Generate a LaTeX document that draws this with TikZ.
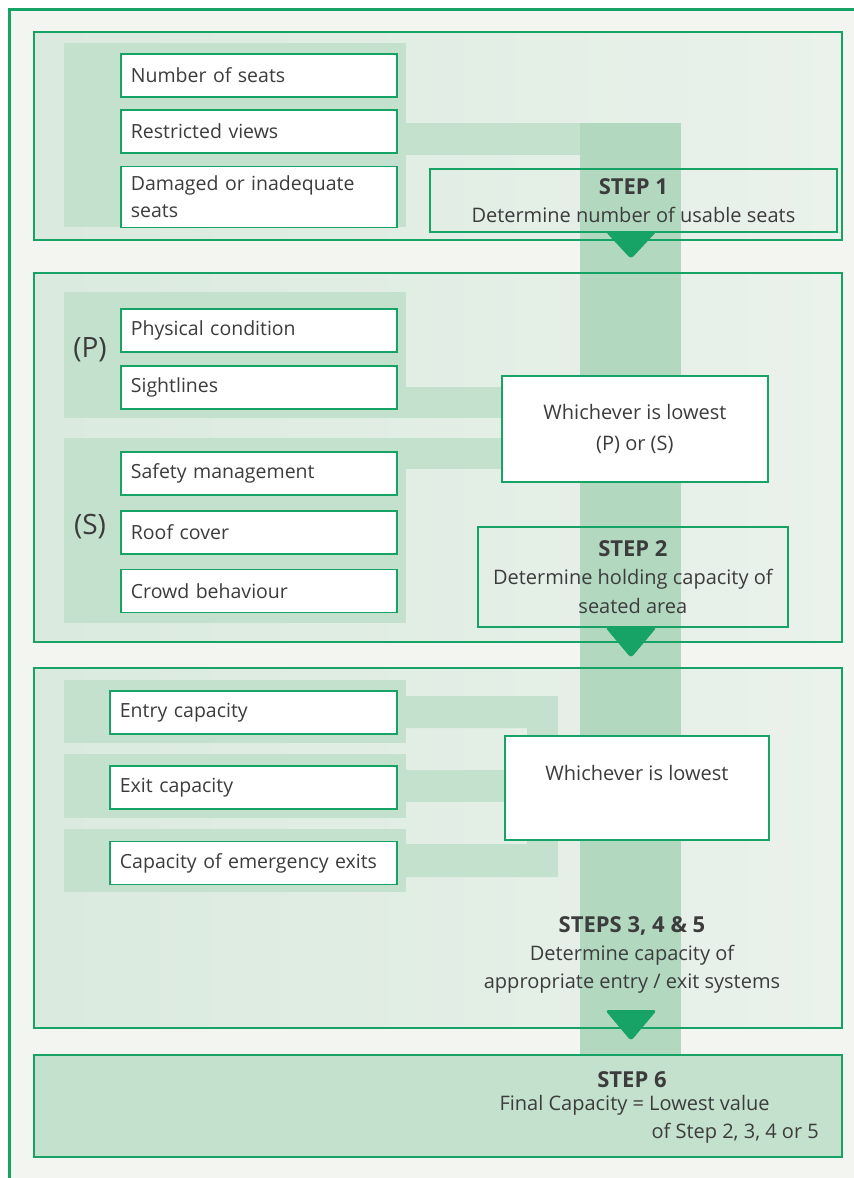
\documentclass[tikz,border=0pt]{standalone}
\usepackage{fontspec}
\setmainfont{Open Sans}
\usepackage{tikz}
\usetikzlibrary{positioning,backgrounds}
\definecolor{sgagreen}{HTML}{17A366}
\definecolor{pagetint}{HTML}{F2F5F0}
\definecolor{panelleft}{HTML}{DAEADE}
\definecolor{panelright}{HTML}{EAF2EB}
\definecolor{bandtint}{HTML}{C3E1CD}
\definecolor{flowtint}{HTML}{B2D9C0}
\definecolor{inkgrey}{HTML}{3C3C3C}
\newcommand{\stephead}[1]{{\fontsize{22}{28.5}\selectfont\bfseries #1}}
\tikzset{
	basics/.style={draw=sgagreen, line width=1.8pt, text=inkgrey},
	factor/.style={rectangle, basics, fill=white, minimum width=276pt, minimum height=43pt, text width=256pt, inner xsep=10pt, align=left, font=\fontsize{19.5}{27}\selectfont},
	widefactor/.style={factor, minimum width=287pt, text width=267pt},
	lowest/.style={rectangle, basics, fill=white, align=center, font=\fontsize{20}{31}\selectfont},
	stepbox/.style={rectangle, basics, align=center, font=\fontsize{20}{28.5}\selectfont},
	steptext/.style={text=inkgrey, align=center, font=\fontsize{20}{28}\selectfont},
	group/.style={text=inkgrey, font=\fontsize{28}{30}\selectfont},
	panel/.style={draw=sgagreen, line width=1.8pt},
	band/.style={fill=bandtint},
	flow/.style={fill=flowtint},
	drop/.style={fill=sgagreen, rounded corners=3.5pt},
}

\begin{document}
\begin{tikzpicture}[x=1pt,y=-1pt]
\useasboundingbox (0,0) rectangle (854,1178);
% step 1
\node (seats) [factor, anchor=north west] at (120,53) {Number of seats};
\node (views) [factor, below=11pt of seats] {Restricted views};
\node (damaged) [factor, below=12pt of views, minimum height=61pt] {Damaged or inadequate\\seats};
\node (step1) [stepbox, minimum width=407pt, minimum height=63pt, anchor=north west] at (429,168) {\stephead{STEP 1}\\Determine number of usable seats};
% step 2
\node (physical) [factor, anchor=north west] at (120,308) {Physical condition};
\node (sight) [factor, below=12pt of physical] {Sightlines};
\node (safety) [factor, anchor=north west] at (120,451) {Safety management};
\node (roof) [factor, below=14pt of safety] {Roof cover};
\node (crowd) [factor, below=14pt of roof] {Crowd behaviour};
\node (pgroup) [group] at (90,350) {(P)};
\node (sgroup) [group] at (90,527) {(S)};
\node (lowestA) [lowest, minimum width=266pt, minimum height=106pt, anchor=north west] at (501,375) {Whichever is lowest\\(P) or (S)};
\node (step2) [stepbox, minimum width=310pt, minimum height=100pt, anchor=north west] at (477,526) {\stephead{STEP 2}\\Determine holding capacity of\\seated area};
% steps 3, 4 and 5
\node (entry) [widefactor, anchor=north west] at (109,690) {Entry capacity};
\node (exit) [widefactor, below=30pt of entry] {Exit capacity};
\node (emergency) [widefactor, below=31pt of exit] {Capacity of emergency exits};
\node (lowestB) [lowest, minimum width=264pt, minimum height=104pt, anchor=north west] at (504,735) {Whichever is lowest\\\mbox{}};
\node (step345) [steptext] at (632,955) {\stephead{STEPS 3, 4 \& 5}\\Determine capacity of\\appropriate entry / exit systems};
% step 6
\node (step6) [steptext] at (632,1080) {\stephead{STEP 6}};
\node (final) [steptext, align=left, anchor=north west] at (496,1092) {Final Capacity = Lowest value\\\hspace*{152pt}of Step 2, 3, 4 or 5};

\begin{pgfonlayer}{background}
\fill[white] (0,0) rectangle (854,1178);
\fill[pagetint] (9,9) rectangle (854,1178);
\draw[sgagreen, line width=3pt] (9,1178) -- (9,9) -- (854,9);
\foreach \t/\b in {32/240,273/642,668/1028}
	\fill[left color=panelleft, right color=panelright] (34,\t) rectangle (842,\b);
\fill[bandtint] (34,1055) rectangle (842,1157);
% grey-green backings
\foreach \t/\b in {43/227,292/418,438/623,680/743,754/818,829/892}
	\fill[band] (64,\t) rectangle (406,\b);
% links into the flow
\fill[band] (406,123) rectangle (681,155);
\fill[band] (406,387) rectangle (lowestA.west |- 0,418);
\fill[band] (406,438) rectangle (lowestA.west |- 0,469);
\fill[band] (406,696) -- (558,696) -- (558,877) -- (406,877) -- (406,844) -- (527,844) -- (527,728) -- (406,728) -- cycle;
\fill[band] (406,770) rectangle (lowestB.west |- 0,802);
\fill[flow] (580,123) rectangle (681,1055);
\foreach \t/\b in {32/240,273/642,668/1028,1055/1157}
	\draw[panel] (34,\t) rectangle (842,\b);
\end{pgfonlayer}

\foreach \t/\b in {231/259,627/658,1010/1041}
	\fill[drop] (605,\t) -- (657,\t) -- (631,\b) -- cycle;
\end{tikzpicture}
\end{document}
